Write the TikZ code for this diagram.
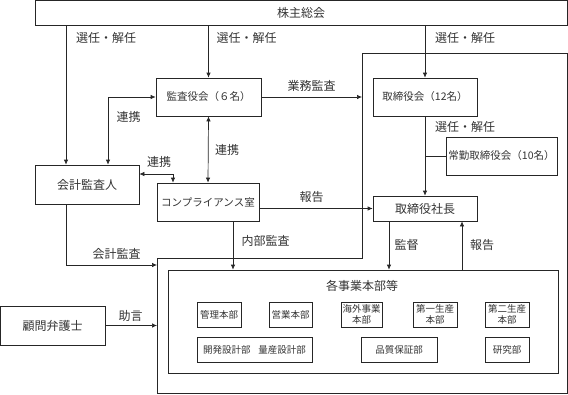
\documentclass[tikz,border=0pt]{standalone}
\usepackage{fontspec}
\setmainfont{Noto Sans CJK JP}
\usetikzlibrary{arrows.meta,calc}
\begin{document}
\begin{tikzpicture}[x=1pt,y=-1pt,
  box/.style={draw=black!85, line width=0.7pt, rectangle, inner sep=0pt, align=center, text=black!80, font=\fontsize{12}{14}\selectfont},
  sbox/.style={box, font=\fontsize{9.5}{11}\selectfont, minimum height=25pt},
  lbl/.style={text=black!80, font=\fontsize{12}{14}\selectfont, inner sep=0pt},
  line/.style={draw=black!85, line width=0.7pt},
  arr/.style={line, -{Latex[length=5pt,width=4.5pt]}},
  arrb/.style={line, {Latex[length=5pt,width=4.5pt]}-{Latex[length=5pt,width=4.5pt]}},
]
\useasboundingbox (0,0) rectangle (568,394);

% outer frame (union of upper-right frame and lower frame)
\coordinate (fA) at (157,258);
\coordinate (fB) at (362,258);
\coordinate (fC) at (362,53);
\coordinate (fD) at (567,53);
\coordinate (fE) at (567,393);
\coordinate (fF) at (157,393);
\draw[line] (fA) -- (fB) -- (fC) -- (fD) -- (fE) -- (fF) -- cycle;

% main nodes
\node[box, minimum width=532pt, minimum height=24.5pt] (share) at (301,12.75) {株主総会};
\node[box, minimum width=105pt, minimum height=38pt, font=\fontsize{10.5}{12}\selectfont] (kansa) at (208.5,97) {監査役会（６名）};
\node[box, minimum width=104pt, minimum height=38pt, font=\fontsize{10.5}{12}\selectfont] (tori) at (425,97) {取締役会（12名）};
\node[box, minimum width=111pt, minimum height=38pt, font=\fontsize{10.5}{12}\selectfont] (joukin) at (501.5,156) {常勤取締役会（10名）};
\node[box, minimum width=104pt, minimum height=39pt] (kaikei) at (87,184.5) {会計監査人};
\node[box, minimum width=102pt, minimum height=38pt, font=\fontsize{10.5}{12}\selectfont] (comp) at (208,202) {コンプライアンス室};
\node[box, minimum width=104pt, minimum height=25pt] (shacho) at (425,208.5) {取締役社長};
\node[box, minimum width=104.5pt, minimum height=39pt] (komon) at (52.75,325.5) {顧問弁護士};

% inner frame
\node[box, minimum width=390pt, minimum height=103pt] (inner) at (363,321.5) {};
\node[lbl] (inntitle) at (362,286) {各事業本部等};

% small boxes
\node[sbox, minimum width=44pt] (b1) at (219,314.5) {管理本部};
\node[sbox, minimum width=43pt] (b2) at (290.5,314.5) {営業本部};
\node[sbox, minimum width=41pt] (b3) at (361.5,314.5) {海外事業\\本部};
\node[sbox, minimum width=44pt] (b4) at (435,314.5) {第一生産\\本部};
\node[sbox, minimum width=44pt] (b5) at (507,314.5) {第二生産\\本部};
\node[sbox, minimum width=115pt] (b6) at (254.5,349.5) {開発設計部\hspace{0.8em}量産設計部};
\node[sbox, minimum width=76pt] (b7) at (399,349.5) {品質保証部};
\node[sbox, minimum width=44pt] (b8) at (507,349.5) {研究部};

% helper x positions
\coordinate (xL) at (66,0);
\coordinate (xM) at (108,0);
\coordinate (xC) at (173,0);
\coordinate (xI) at (233,0);
\coordinate (xK) at (389,0);
\coordinate (xR) at (462,0);
\coordinate (yKA) at (0,265);

% connectors
\draw[arr] (share.south -| xL) -- (kaikei.north -| xL);
\draw[arr] (share.south -| kansa.north) -- (kansa.north);
\draw[arr] (share.south -| tori.north) -- (tori.north);
\draw[arrb] (kaikei.north -| xM) |- (kansa.west);
\draw[arrb] (kansa.south) -- (comp.north);
\draw[arr] (kansa.east) -- (kansa.east -| fC);
\draw[arrb] ([yshift=10.5pt]kaikei.east) -| (comp.north -| xC);
\draw[arr] (tori.south) -- (shacho.north);
\draw[line] (joukin.west) -- (joukin.west -| tori.south);
\draw[arr] (shacho.west -| comp.east) -- (shacho.west);
\draw[arr] (comp.south -| xI) -- (inner.north -| xI);
\draw[arr] (kaikei.south -| xL) |- (yKA -| fA);
\draw[arr] (komon.east) -- (komon.east -| fA);
\draw[arr] (shacho.south -| xK) -- (inner.north -| xK);
\draw[arr] (inner.north -| xR) -- (shacho.south -| xR);

% labels
\node[lbl] (l1) at (106,38) {選任・解任};
\node[lbl] (l2) at (246.5,38) {選任・解任};
\node[lbl] (l3) at (465,38) {選任・解任};
\node[lbl] (l4) at (311.5,86) {業務監査};
\node[lbl] (l5) at (128.5,117) {連携};
\node[lbl] (l6) at (227,150) {連携};
\node[lbl] (l7) at (159,162) {連携};
\node[lbl] (l8) at (465,127) {選任・解任};
\node[lbl] (l9) at (311.5,197) {報告};
\node[lbl] (l10) at (265.5,241) {内部監査};
\node[lbl] (l11) at (116.5,254) {会計監査};
\node[lbl] (l12) at (406.5,245) {監督};
\node[lbl] (l13) at (482,245) {報告};
\node[lbl] (l14) at (130.5,316) {助言};
\end{tikzpicture}
\end{document}
